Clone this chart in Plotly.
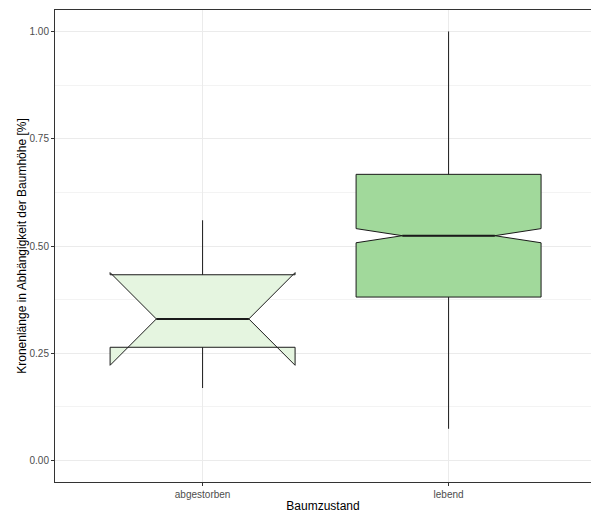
import plotly.graph_objects as go

# Summary statistics per tree state (crown length relative to tree height)
zustand = ["abgestorben", "lebend"]
lower_whisker = [0.169, 0.074]
q1 = [0.264, 0.381]
median = [0.330, 0.524]
q3 = [0.433, 0.667]
upper_whisker = [0.560, 1.000]
notch_half = [0.108, 0.0165]
fill_colors = ["#E5F5E0", "#A1D99B"]

y_ticks = [0.0, 0.25, 0.5, 0.75, 1.0]

BOX_WIDTH = 0.752

fig = go.Figure()
for i, name in enumerate(zustand):
    fig.add_trace(go.Box(
        x=[name],
        q1=[q1[i]], median=[median[i]], q3=[q3[i]],
        lowerfence=[lower_whisker[i]], upperfence=[upper_whisker[i]],
        notchspan=[notch_half[i]],
        notched=True, notchwidth=0.25,
        width=BOX_WIDTH, whiskerwidth=0,
        fillcolor=fill_colors[i],
        line=dict(color="#1a1a1a", width=1),
        boxpoints=False, showlegend=False,
        hoverinfo="skip",
    ))
    # emphasised median segment (spans the notch waist: half the box width)
    fig.add_shape(
        type="line", xref="x", yref="y",
        x0=i - BOX_WIDTH / 4, x1=i + BOX_WIDTH / 4,
        y0=median[i], y1=median[i],
        line=dict(color="#1a1a1a", width=2),
    )

grid = "#EBEBEB"
fig.update_layout(
    width=591, height=513,
    margin=dict(l=55, r=0, t=10, b=31),
    paper_bgcolor="white", plot_bgcolor="white",
    font=dict(family="Liberation Sans, Arial, sans-serif", color="#4D4D4D", size=10),
    xaxis=dict(
        type="category", range=[-0.6, 1.579],
        showgrid=True, gridcolor=grid, gridwidth=1,
        showline=True, mirror=True, linecolor="#333333", linewidth=1,
        ticks="outside", ticklen=3, tickcolor="#333333",
        tickfont=dict(size=10, color="#4D4D4D"),
        title=dict(text="Baumzustand", font=dict(size=12, color="black"), standoff=2),
        zeroline=False,
    ),
    yaxis=dict(
        range=[-0.05, 1.05],
        tickvals=y_ticks, ticktext=[f"{v:.2f}" for v in y_ticks],
        showgrid=True, gridcolor=grid, gridwidth=1,
        minor=dict(dtick=0.125, tick0=0.125, showgrid=True, gridcolor="#F3F3F3", gridwidth=1),
        showline=True, mirror=False, linecolor="#333333", linewidth=1,
        ticks="outside", ticklen=3, tickcolor="#333333",
        tickfont=dict(size=10, color="#4D4D4D"),
        title=dict(text="Kronenlänge in Abhängigkeit der Baumhöhe [%]",
                   font=dict(size=12, color="black"), standoff=0),
        zeroline=False,
    ),
)

fig.write_html("out.html")
